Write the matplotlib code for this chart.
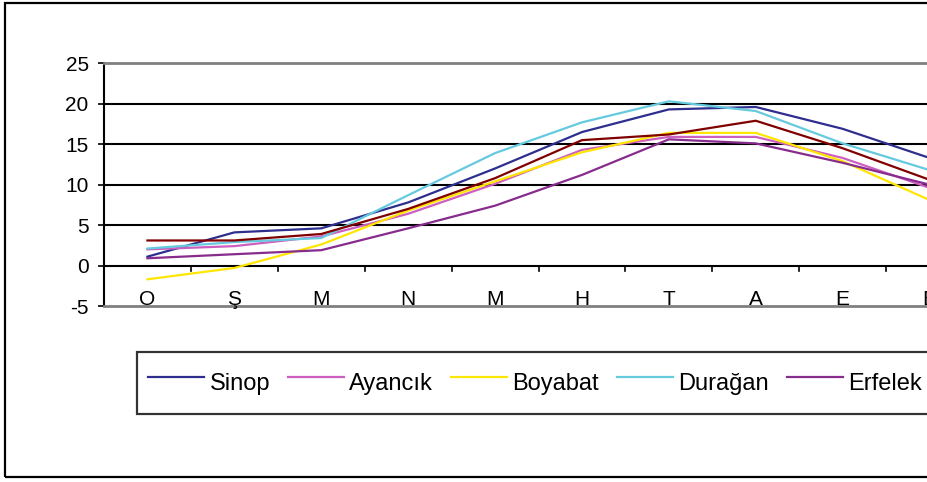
import matplotlib
matplotlib.use('Agg')
import matplotlib.pyplot as plt
from matplotlib.patches import Rectangle

plt.rcParams['font.family'] = ['Liberation Sans', 'DejaVu Sans']
plt.rcParams['axes.unicode_minus'] = False

# month initials (Ocak ... Aralik), only first 10 are visible in the crop
months = ['O', 'Ş', 'M', 'N', 'M', 'H', 'T', 'A', 'E', 'E', 'K', 'A']

# monthly mean temperatures
sinop = [1.1, 4.1, 4.6, 7.8, 12.0, 16.5, 19.3, 19.6, 16.9, 13.3]
ayancik = [2.0, 2.4, 3.6, 6.4, 10.1, 14.3, 15.9, 15.9, 13.3, 9.6]
boyabat = [-1.7, -0.3, 2.6, 6.8, 10.4, 14.0, 16.4, 16.4, 12.9, 8.1]
duragan = [2.1, 2.9, 3.4, 8.7, 13.9, 17.7, 20.3, 19.1, 15.1, 11.8]
erfelek = [0.9, 1.4, 1.9, 4.6, 7.4, 11.2, 15.6, 15.1, 12.7, 10.0]
gerze = [3.1, 3.1, 3.9, 7.0, 10.8, 15.5, 16.2, 17.9, 14.5, 10.6]

names = ['Sinop', 'Ayancık', 'Boyabat', 'Durağan', 'Erfelek', 'Gerze']
series = [sinop, ayancik, boyabat, duragan, erfelek, gerze]
colors = ['#2E2E8E', '#CC5FBF', '#FFE600', '#66CADF', '#872C8C', '#800000']

W, H = 927, 482
fig = plt.figure(figsize=(W / 100, H / 100), dpi=100)

# chart area border (runs off the right side, like the cropped original)
fig.patches.append(Rectangle((5 / W, 1 - 477 / H), 1.2, (477 - 3) / H,
                             transform=fig.transFigure, fill=False,
                             edgecolor='black', linewidth=1.6))

# plot area is wider than the figure: 12 categories of ~86.9 px
left = 104 / W
ax = fig.add_axes([left, 1 - 306 / H, 12 * 86.9 / W, (306 - 63.3) / H])
ax.set_xlim(-0.5, 11.5)
ax.set_ylim(-5, 25)

for yv in [5, 10, 15, 20]:
    ax.axhline(yv, color='black', linewidth=1.5, zorder=1)

lines = []
for vals, name, col in zip(series, names, colors):
    ln, = ax.plot(range(len(vals)), vals, color=col, linewidth=1.6,
                  label=name, zorder=3, solid_joinstyle='miter')
    lines.append(ln)

# plot area border in gray, value axis black
for s in ['top', 'bottom', 'right']:
    ax.spines[s].set_color('#808080')
    ax.spines[s].set_linewidth(2)
ax.spines['left'].set_color('black')
ax.spines['left'].set_linewidth(1.5)

ax.set_yticks(range(-5, 30, 5))
ax.tick_params(axis='y', direction='out', length=4.5, width=1.2,
               labelsize=15, pad=6.5, colors='black')

# category axis crosses at zero, tick marks between categories
ax.axhline(0, color='black', linewidth=1.5, zorder=2)
ax.set_xticks([])
ax.tick_params(axis='x', length=0)
for b in range(1, 12):
    ax.plot([b - 0.5, b - 0.5], [0, -0.7], color='black', linewidth=1.2,
            clip_on=False, zorder=2)

# category labels sit on the bottom of the plot area
for i, m in enumerate(months):
    ax.text(i, -4.9, m, ha='center', va='baseline', fontsize=15)

leg = fig.legend(handles=lines, labels=names, loc='upper left',
                 bbox_to_anchor=(137 / W, 1 - 352 / H), ncol=6,
                 fontsize=17, frameon=True, fancybox=False, shadow=False,
                 edgecolor='black', borderaxespad=0, borderpad=0.47,
                 handlelength=2.37, handletextpad=0.23, columnspacing=0.76,
                 handleheight=2.2)
leg.get_frame().set_linewidth(1.6)

fig.savefig('out.png', dpi=100)
